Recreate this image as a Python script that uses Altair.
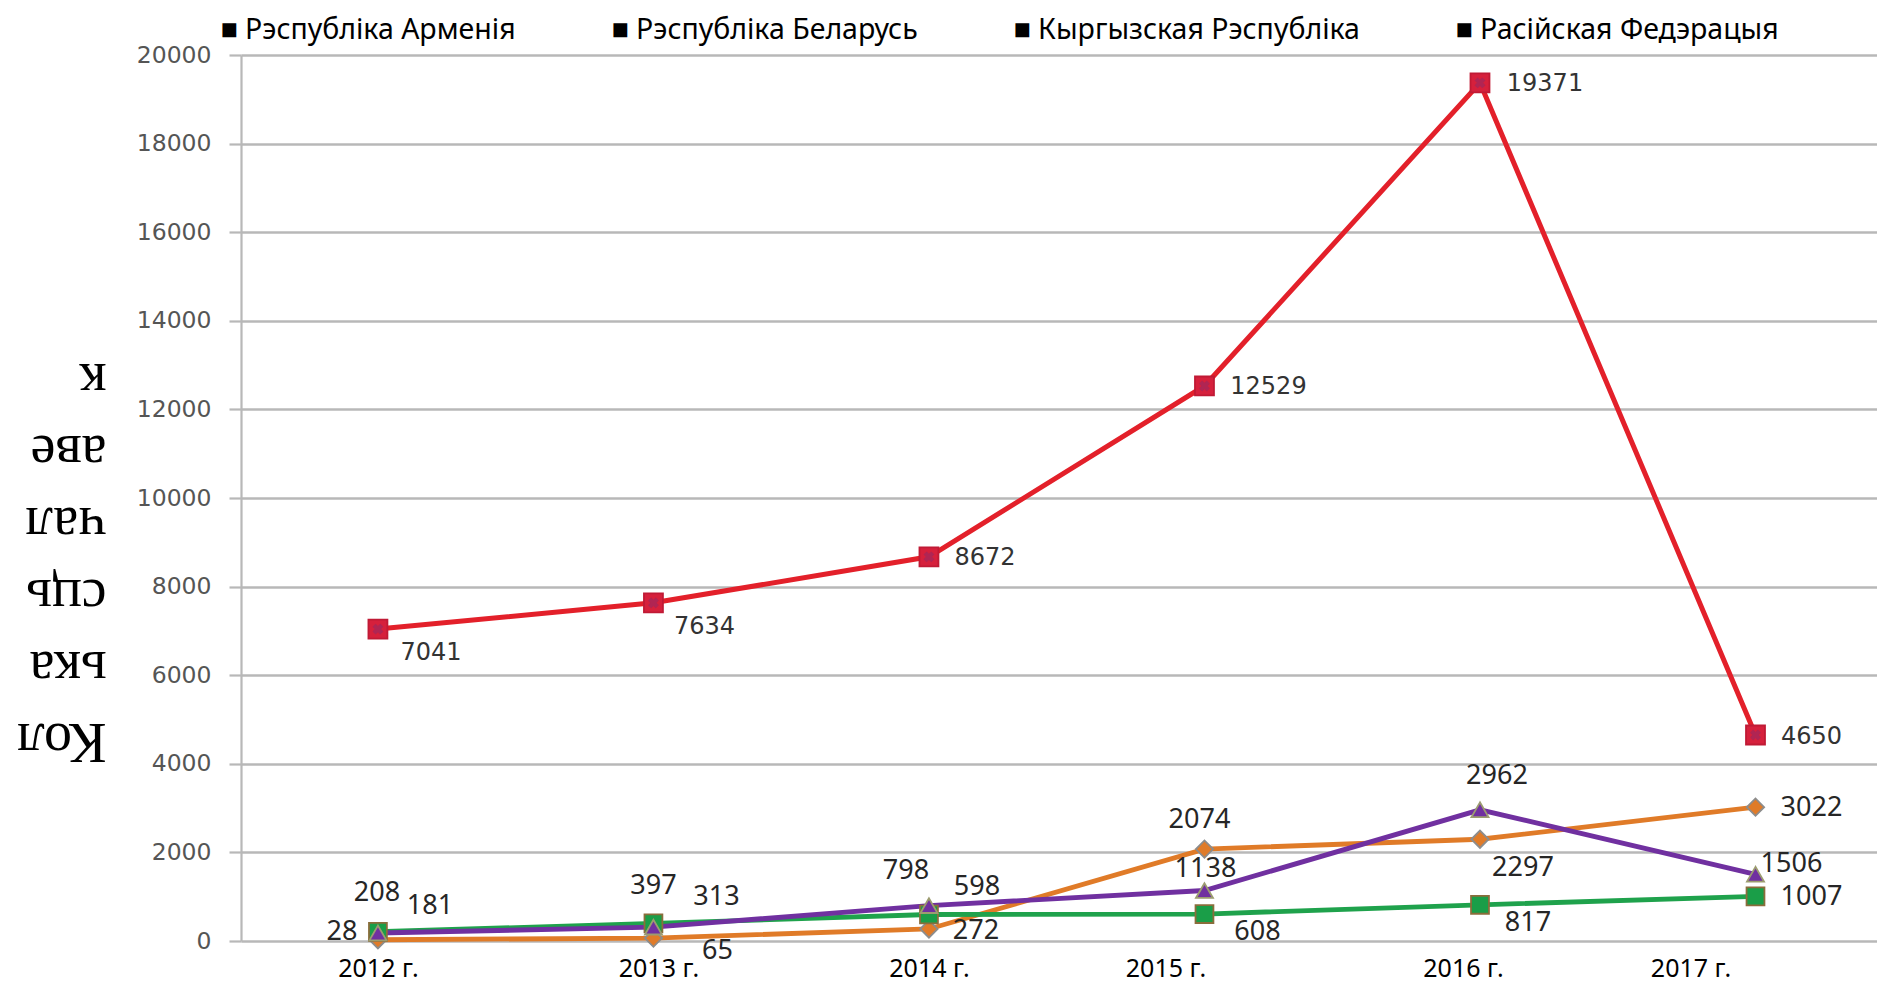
import altair as alt
import pandas as pd

# ---------------- data ----------------
years = [2012, 2013, 2014, 2015, 2016, 2017]
series_names = ["Рэспубліка Арменія", "Рэспубліка Беларусь",
                "Кыргызская Рэспубліка", "Расійская Федэрацыя"]
armenia = [28, 65, 272, 2074, 2297, 3022]
belarus = [208, 397, 598, 608, 817, 1007]
kyrgyz = [181, 313, 798, 1138, 2962, 1506]
russia = [7041, 7634, 8672, 12529, 19371, 4650]
y_ticks = list(range(0, 20001, 2000))
y_title = ["Кол", "ька", "сць", "чал", "аве", "к"]

values_by_series = dict(zip(series_names, [armenia, belarus, kyrgyz, russia]))
rows = []
for s, vals in values_by_series.items():
    for yr, v in zip(years, vals):
        rows.append({"series": s, "year": yr, "value": v})
df = pd.DataFrame(rows)

# ---------------- styles ----------------
line_colors = ["#e07b28", "#1fa24c", "#7030a0", "#e3202a"]
line_widths = [4.8, 5, 4.8, 3.8]
markers = {
    "Рэспубліка Арменія": dict(shape="diamond", size=300, fill="#e07b28", stroke="#8c8c8c"),
    "Рэспубліка Беларусь": dict(shape="square", size=320, fill="#1a9e48", stroke="#8a6d3b"),
    "Кыргызская Рэспубліка": dict(shape="triangle-up", size=290, fill="#7030a0", stroke="#9c9c70"),
    "Расійская Федэрацыя": dict(shape="square", size=360, fill="#d6203c", stroke="#c01a35"),
}
# label nudges (dx, dy) in pixels, per series and year
label_nudges = {
    "Рэспубліка Арменія": [(-36, -8), (64, 13), (47, 2), (-5, -29), (43, 29), (56, 1)],
    "Рэспубліка Беларусь": [(-1, -39), (0, -37), (48, -28), (53, 18), (48, 18), (56, 1)],
    "Кыргызская Рэспубліка": [(52, -27), (63, -30), (-23, -35), (1, -22), (17, -34), (36, -10)],
    "Расійская Федэрацыя": [(53, 24), (51, 24), (56, 1), (64, 1), (65, 1), (56, 2)],
}
x_label_shift = {2013: 5, 2015: -39, 2016: -17, 2017: -65}

W, H = 1636, 886
x_scale = alt.Scale(domain=[2011.503, 2017.441], nice=False, zero=False)
y_scale = alt.Scale(domain=[0, 20000], nice=False)

grid_col = "#b8b8b8"

x_axis = alt.Axis(
    values=years, labelExpr="datum.value + ' г.'", grid=False, domain=False,
    ticks=False, title=None, labelFont="Noto Sans", labelFontSize=25,
    labelColor="#000000", labelPadding=15, labelFlush=False,
    labelOffset={"condition": [{"test": f"datum.value === {k}", "value": v}
                               for k, v in x_label_shift.items()], "value": 0},
)
y_axis = alt.Axis(
    values=y_ticks, format="d", title=y_title, titleAngle=180,
    titleAlign="left", titleBaseline="top", titleX=-135, titleY=712,
    titleFont="Liberation Serif", titleFontSize=56, titleFontWeight="normal",
    titleLineHeight=72, titleColor="#000000",
    labelFont="DejaVu Sans", labelFontSize=23.5, labelColor="#555555",
    labelPadding=18, tickSize=12, tickColor=grid_col, tickWidth=2.2,
    domainColor=grid_col, domainWidth=2.2, gridColor=grid_col, gridWidth=2.4,
)

base = alt.Chart(df)

lines = base.mark_line().encode(
    x=alt.X("year:Q", scale=x_scale, axis=x_axis),
    y=alt.Y("value:Q", scale=y_scale, axis=y_axis),
    color=alt.Color(
        "series:N",
        scale=alt.Scale(domain=series_names, range=line_colors),
        legend=alt.Legend(
            title=None, orient="none", direction="horizontal",
            legendX=-49, legendY=-39, symbolSize=0, symbolOpacity=0,
            symbolStrokeWidth=0, labelOffset=0,
            labelExpr="'■ ' + datum.label", labelFont="Noto Sans",
            labelFontSize=28.5, labelColor="#000000", columnPadding=67,
            labelLimit=700,
        ),
    ),
    strokeWidth=alt.StrokeWidth(
        "series:N", scale=alt.Scale(domain=series_names, range=line_widths),
        legend=None),
)

layers = [lines]
for s in series_names:
    m = markers[s]
    layers.append(
        base.transform_filter(alt.datum.series == s)
        .mark_point(shape=m["shape"], size=m["size"], filled=True,
                    fill=m["fill"], stroke=m["stroke"], strokeWidth=1.8,
                    opacity=1)
        .encode(x="year:Q", y="value:Q")
    )
# cross inside the red markers
layers.append(
    base.transform_filter(alt.datum.series == series_names[3])
    .mark_point(shape="cross", angle=45, size=120, filled=True,
                fill="#8a2a6a", opacity=0.5)
    .encode(x="year:Q", y="value:Q")
)

for s in series_names:
    is_red = s == series_names[3]
    for yr, (dx, dy) in zip(years, label_nudges[s]):
        layers.append(
            base.transform_filter((alt.datum.series == s) & (alt.datum.year == yr))
            .mark_text(dx=dx, dy=dy, align="center", baseline="middle",
                       font="DejaVu Sans" if is_red else "Noto Sans",
                       fontSize=24 if is_red else 27,
                       color="#333333" if is_red else "#262626")
            .encode(x="year:Q", y="value:Q", text=alt.Text("value:Q", format="d"))
        )

chart = alt.layer(*layers).properties(
    width=W, height=H,
    padding={"left": 233, "top": 47, "right": 0, "bottom": 45},
    autosize=alt.AutoSizeParams(type="none"),
).configure_view(stroke=None)

chart.save("out.html", embed_options={"renderer": "svg", "actions": False})
